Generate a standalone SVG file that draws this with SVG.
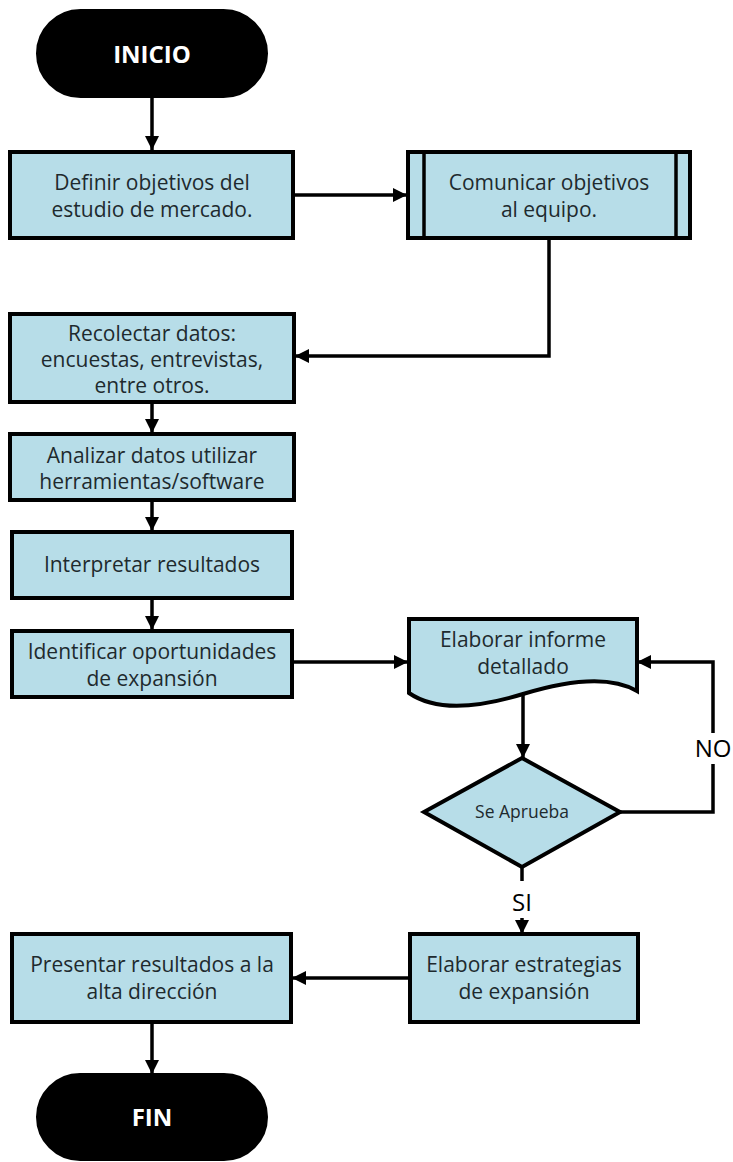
<svg xmlns="http://www.w3.org/2000/svg" width="733" height="1162" viewBox="0 0 733 1162">
<style>
.box{fill:#b7dde8;stroke:#000;stroke-width:4}
.term{fill:#000;stroke:#000;stroke-width:2}
.t{font-family:"Open Sans","Liberation Sans",sans-serif;font-size:21px;fill:#1e2a2e;text-anchor:middle}
.tb{font-family:"Open Sans","Liberation Sans",sans-serif;font-size:24px;font-weight:bold;fill:#fff;text-anchor:middle}
.lbl{font-family:"Open Sans","Liberation Sans",sans-serif;font-size:24px;fill:#000;text-anchor:middle}
.c{fill:none;stroke:#000;stroke-width:3.5}
.ca{fill:none;stroke:#000;stroke-width:3.5;marker-end:url(#ah)}
</style>
<defs>
<marker id="ah" markerUnits="userSpaceOnUse" markerWidth="16" markerHeight="16" refX="14" refY="7" orient="auto">
<path d="M0,0 L14,7 L0,14 Z" fill="#000"/>
</marker>
</defs>
<rect width="733" height="1162" fill="#fff"/>
<g id="connectors">
<path class="ca" d="M152,97 V150"/>
<path class="ca" d="M293,195 H407"/>
<path class="ca" d="M549,238 V356 H295"/>
<path class="ca" d="M152,402 V433"/>
<path class="ca" d="M152,500 V531"/>
<path class="ca" d="M152,598 V630"/>
<path class="ca" d="M291,662 H408"/>
<path class="ca" d="M523,695 V758"/>
<path class="c" d="M620,812 H713 V764"/>
<path class="ca" d="M713,733 V662 H637"/>
<path class="c" d="M522,867 V881"/>
<path class="ca" d="M522,918 V934"/>
<path class="ca" d="M410,978 H292"/>
<path class="ca" d="M152,1023 V1074"/>
<text class="lbl" x="713" y="757">NO</text>
<text class="lbl" x="522" y="911">SI</text>
</g>
<g id="inicio">
<rect class="term" x="37" y="10" width="230" height="87" rx="43.5"/>
<text class="tb" x="152" y="63">INICIO</text>
</g>
<g id="definir">
<rect class="box" x="10" y="152" width="283" height="86"/>
<text class="t" x="152" y="190">Definir objetivos del</text>
<text class="t" x="152" y="217">estudio de mercado.</text>
</g>
<g id="comunicar">
<rect class="box" x="408" y="152" width="282" height="86"/>
<line x1="424" y1="152" x2="424" y2="238" stroke="#000" stroke-width="3.5"/>
<line x1="676" y1="152" x2="676" y2="238" stroke="#000" stroke-width="3.5"/>
<text class="t" x="549" y="190">Comunicar objetivos</text>
<text class="t" x="549" y="217">al equipo.</text>
</g>
<g id="recolectar">
<rect class="box" x="10" y="314" width="284" height="88"/>
<text class="t" x="152" y="341">Recolectar datos:</text>
<text class="t" x="152" y="367">encuestas, entrevistas,</text>
<text class="t" x="152" y="393">entre otros.</text>
</g>
<g id="analizar">
<rect class="box" x="10" y="434" width="284" height="66"/>
<text class="t" x="152" y="463">Analizar datos utilizar</text>
<text class="t" x="152" y="489">herramientas/software</text>
</g>
<g id="interpretar">
<rect class="box" x="12" y="532" width="280" height="66"/>
<text class="t" x="152" y="572">Interpretar resultados</text>
</g>
<g id="identificar">
<rect class="box" x="12" y="631" width="280" height="66"/>
<text class="t" x="152" y="659">Identificar oportunidades</text>
<text class="t" x="152" y="686">de expansión</text>
</g>
<g id="informe">
<path class="box" d="M409,619 H637 V691 Q601,670 523,694 T409,693 Z"/>
<text class="t" x="523" y="647">Elaborar informe</text>
<text class="t" x="523" y="674">detallado</text>
</g>
<g id="aprueba">
<polygon class="box" points="522,758 620,812 522,867 424,812"/>
<text class="t" x="522" y="818" style="font-size:17.5px">Se Aprueba</text>
</g>
<g id="estrategias">
<rect class="box" x="410" y="934" width="228" height="88"/>
<text class="t" x="524" y="972">Elaborar estrategias</text>
<text class="t" x="524" y="999">de expansión</text>
</g>
<g id="presentar">
<rect class="box" x="12" y="934" width="279" height="88"/>
<text class="t" x="152" y="972">Presentar resultados a la</text>
<text class="t" x="152" y="999">alta dirección</text>
</g>
<g id="fin">
<rect class="term" x="37" y="1074" width="230" height="86" rx="43"/>
<text class="tb" x="152" y="1126">FIN</text>
</g>
</svg>
